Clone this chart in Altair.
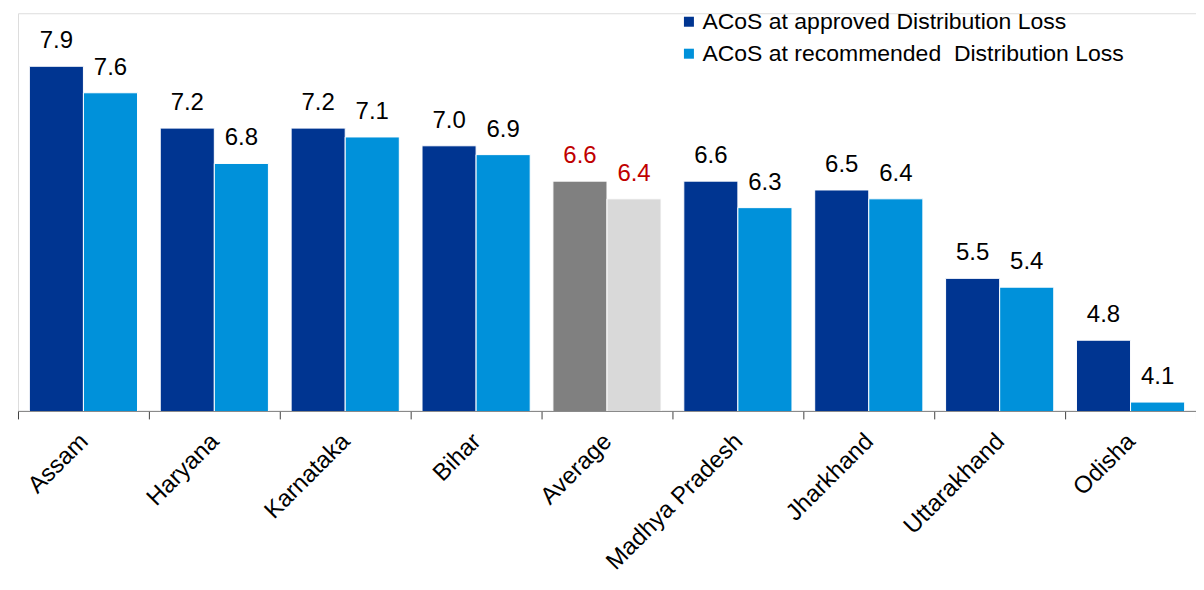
import altair as alt
import pandas as pd

categories = ["Assam", "Haryana", "Karnataka", "Bihar", "Average",
              "Madhya Pradesh", "Jharkhand", "Uttarakhand", "Odisha"]
approved = [7.9, 7.2, 7.2, 7.0, 6.6, 6.6, 6.5, 5.5, 4.8]
recommended = [7.6, 6.8, 7.1, 6.9, 6.4, 6.3, 6.4, 5.4, 4.1]
series = ["ACoS at approved Distribution Loss",
          "ACoS at recommended\u00a0 Distribution Loss"]

rows = []
for c, a, r in zip(categories, approved, recommended):
    for s, v in zip(series, [a, r]):
        key = s if c != "Average" else ("Avg approved" if s == series[0] else "Avg recommended")
        rows.append({"category": c, "series": s, "value": v, "ckey": key,
                     "tcolor": "red" if c == "Average" else "black",
                     "label": f"{v:.1f}"})
df = pd.DataFrame(rows)

FONT = "Liberation Sans"
color_scale = alt.Scale(
    domain=series + ["Avg approved", "Avg recommended"],
    range=["#003591", "#0091DA", "#808080", "#D9D9D9"],
)

x = alt.X("category:N", sort=categories, title=None,
          scale=alt.Scale(paddingInner=0, paddingOuter=0),
          axis=alt.Axis(labelAngle=-45, labelFontSize=24, labelFont=FONT,
                        labelColor="black", tickBand="extent", tickSize=8,
                        domainColor="#7f7f7f", tickColor="#404040",
                        labelPadding=10, labelLimit=400, labelOffset=-8))
xo = alt.XOffset("series:N", sort=series,
                 scale=alt.Scale(paddingOuter=0.21, paddingInner=0))
y = alt.Y("value:Q", scale=alt.Scale(domain=[4, 8.5], zero=False, nice=False),
          axis=None)

bars = alt.Chart(df).mark_bar(stroke="white", strokeWidth=1, clip=True).encode(
    x=x, xOffset=xo, y=y,
    color=alt.Color("ckey:N", scale=color_scale, title=None,
                    legend=alt.Legend(values=series, orient="none",
                                      legendX=660, legendY=-3,
                                      symbolType="square", symbolSize=100,
                                      labelFontSize=23, labelFont=FONT,
                                      labelColor="black", rowPadding=8,
                                      labelOffset=2,
                                      labelLimit=600, symbolStrokeWidth=0)),
)

text = alt.Chart(df).mark_text(baseline="alphabetic", dy=-18, fontSize=24, font=FONT).encode(
    x=x, xOffset=xo, y=y, text="label:N",
    color=alt.Color("tcolor:N", scale=alt.Scale(domain=["black", "red"],
                                                  range=["#000000", "#C00000"]),
                    legend=None),
)

chart = alt.layer(bars, text).resolve_scale(color="independent").properties(
    width=1179, height=398,
    padding={"left": 10, "top": 5, "right": 0, "bottom": 171},
    autosize=alt.AutoSizeParams(type="none"),
).configure_view(stroke=None).configure(background="white")

chart.save("out.html", embed_options={"renderer": "svg", "actions": False})
